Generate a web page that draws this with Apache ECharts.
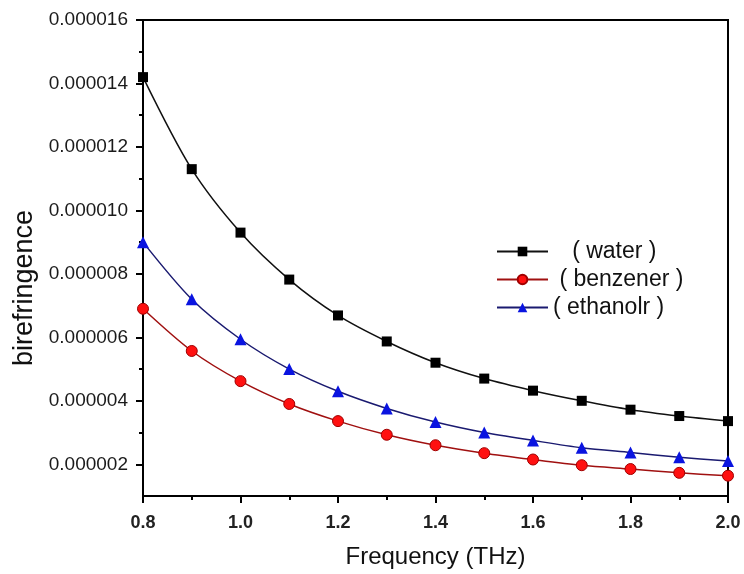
<!DOCTYPE html>
<html>
<head>
<meta charset="utf-8">
<script src="https://cdn.jsdelivr.net/npm/echarts@6/dist/echarts.min.js"></script>
<style>
  html, body { margin: 0; padding: 0; background: #fff; }
  #chart { width: 744px; height: 574px; }
</style>
</head>
<body>
<div id="chart"></div>
<script>
const frequency = [0.8, 0.9, 1.0, 1.1, 1.2, 1.3, 1.4, 1.5, 1.6, 1.7, 1.8, 1.9, 2.0];
const water = [14.2e-6, 11.3e-6, 9.3e-6, 7.82e-6, 6.69e-6, 5.87e-6, 5.2e-6, 4.7e-6, 4.32e-6, 4.0e-6, 3.72e-6, 3.52e-6, 3.36e-6];
const benzener = [6.9e-6, 5.57e-6, 4.62e-6, 3.9e-6, 3.36e-6, 2.93e-6, 2.6e-6, 2.35e-6, 2.15e-6, 1.97e-6, 1.85e-6, 1.73e-6, 1.64e-6];
const ethanolr = [9.0e-6, 7.2e-6, 5.94e-6, 5.0e-6, 4.3e-6, 3.76e-6, 3.33e-6, 3.0e-6, 2.75e-6, 2.52e-6, 2.37e-6, 2.22e-6, 2.1e-6];
const yMajorTicks = [0.000002, 0.000004, 0.000006, 0.000008, 0.00001, 0.000012, 0.000014, 0.000016];
const yMinorTicks = [0.000003, 0.000005, 0.000007, 0.000009, 0.000011, 0.000013, 0.000015];
const seriesNames = ["( water )", "( benzener )", "( ethanolr )"];

function pairs(ys) {
  return frequency.map((x, i) => [x, ys[i]]);
}

document.addEventListener("DOMContentLoaded", function () {
  const chart = echarts.init(document.getElementById("chart"));
  const font = "Liberation Sans, Arial, sans-serif";
  const legendPad = { "( water )": "   ", "( benzener )": " ", "( ethanolr )": "" };

  const option = {
    animation: false,
    backgroundColor: "#fff",
    grid: {
      top: 20,
      right: 16,
      bottom: 77,
      left: 143,
      show: true,
      borderColor: "#000",
      borderWidth: 2,
    },
    legend: {
      orient: "vertical",
      left: 491,
      top: 235,
      itemWidth: 51,
      itemHeight: 12,
      itemGap: 5,
      data: seriesNames,
      formatter: (name) => legendPad[name] + name,
      textStyle: { fontFamily: font, fontSize: 23, color: "#111" },
    },
    xAxis: {
      type: "value",
      min: 0.8,
      max: 2.0,
      interval: 0.2,
      name: "Frequency (THz)",
      nameLocation: "middle",
      nameGap: 49,
      nameTextStyle: { fontFamily: font, fontSize: 24, color: "#111" },
      axisLine: { show: true, lineStyle: { color: "#000", width: 2 } },
      axisTick: { show: true, length: 7, lineStyle: { color: "#000", width: 2 } },
      minorTick: { show: true, splitNumber: 2, length: 4, lineStyle: { color: "#000", width: 2 } },
      splitLine: { show: false },
      axisLabel: {
        margin: 18,
        fontFamily: font,
        fontSize: 18,
        fontWeight: "bold",
        color: "#222",
        formatter: (v) => v.toFixed(1),
      },
    },
    yAxis: [
      {
        type: "value",
        min: 0.000001,
        max: 0.000016,
        name: "birefringence",
        nameLocation: "middle",
        nameGap: 102,
        nameTextStyle: { fontFamily: font, fontSize: 27, color: "#111", padding: [0, 60, 0, 0] },
        axisLine: { show: true, lineStyle: { color: "#000", width: 2 } },
        axisTick: { show: true, length: 7, customValues: yMajorTicks, lineStyle: { color: "#000", width: 2 } },
        splitLine: { show: false },
        axisLabel: {
          customValues: yMajorTicks,
          margin: 15,
          fontFamily: font,
          fontSize: 19,
          color: "#1a1a1a",
          formatter: (v) => v.toFixed(6),
        },
      },
      {
        type: "value",
        position: "left",
        min: 0.000001,
        max: 0.000016,
        axisLine: { show: false },
        axisTick: { show: true, length: 4, customValues: yMinorTicks, lineStyle: { color: "#000", width: 2 } },
        axisLabel: { show: false },
        splitLine: { show: false },
      },
    ],
    series: [
      {
        name: seriesNames[0],
        type: "line",
        smooth: 0.3,
        data: pairs(water),
        symbol: "rect",
        symbolSize: 10,
        lineStyle: { color: "#111", width: 1.5 },
        itemStyle: { color: "#000" },
      },
      {
        name: seriesNames[1],
        type: "line",
        smooth: 0.3,
        data: pairs(benzener),
        symbol: "circle",
        symbolSize: 11,
        lineStyle: { color: "#a01010", width: 1.5 },
        itemStyle: { color: "#ff1010", borderColor: "#a00000", borderWidth: 1 },
      },
      {
        name: seriesNames[2],
        type: "line",
        smooth: 0.3,
        data: pairs(ethanolr),
        symbol: "triangle",
        symbolSize: 12,
        lineStyle: { color: "#1a1a70", width: 1.5 },
        itemStyle: { color: "#0a14e0" },
      },
    ],
  };
  chart.setOption(option);

  window.addEventListener("resize", () => {
    chart.resize();
  });
});
</script>
</body>
</html>
